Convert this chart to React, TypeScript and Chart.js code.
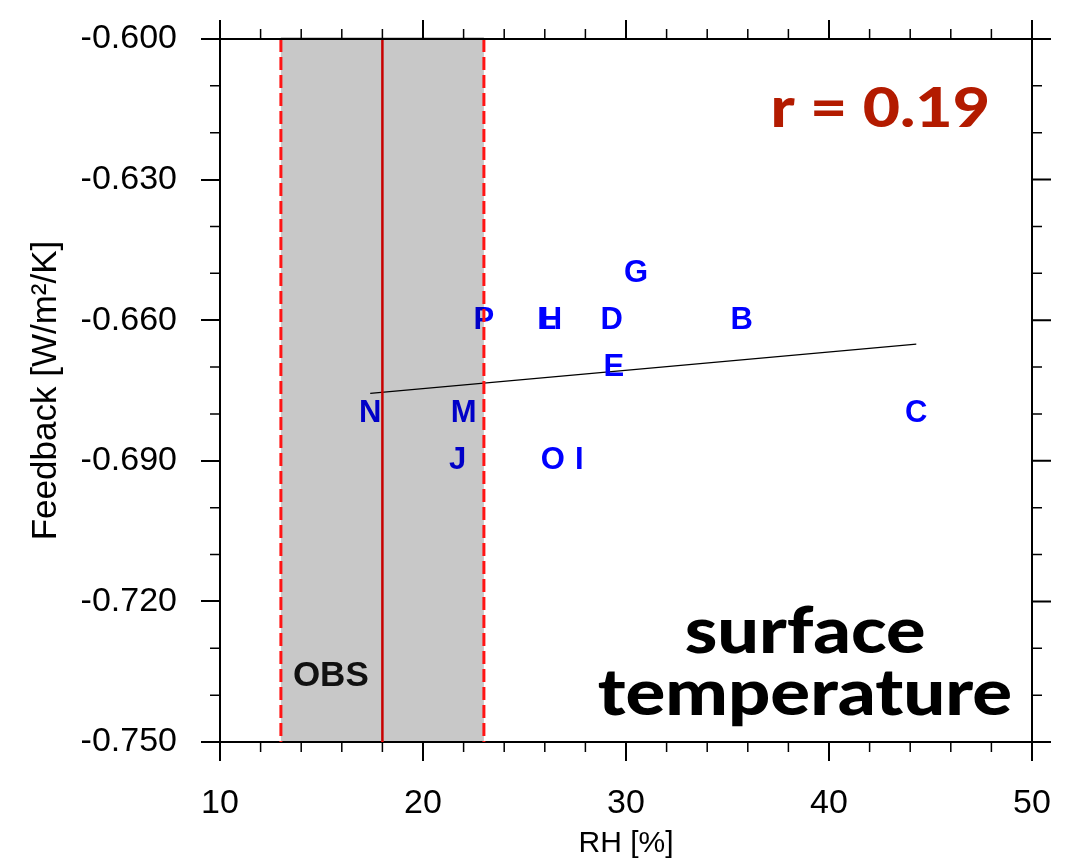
import React, { useEffect, useRef } from "react";
import { Chart, registerables } from "chart.js";

Chart.register(...registerables);

// ---- data ----
const modelLabels = ["B", "C", "D", "E", "G", "H", "I", "J", "L", "M", "N", "O", "P"];
const rhValues = [35.7, 44.3, 29.3, 29.4, 30.5, 26.3, 27.7, 21.7, 26.1, 22.0, 17.4, 26.4, 23.0];
const feedbackValues = [-0.66, -0.68, -0.66, -0.67, -0.65, -0.66, -0.69, -0.69, -0.66, -0.68, -0.68, -0.69, -0.66];

const fitX = [17.4, 44.3];
const fitY = [-0.6756, -0.6651];

const obsLow = 13;
const obsHigh = 23;
const obsCenter = 18;

const xMajorTicks = [10, 20, 30, 40, 50];
const xMinorTicks = [12, 14, 16, 18, 22, 24, 26, 28, 32, 34, 36, 38, 42, 44, 46, 48];
const yMajorTicks = [-0.75, -0.72, -0.69, -0.66, -0.63, -0.6];
const yMinorTicks = [-0.74, -0.73, -0.71, -0.7, -0.68, -0.67, -0.65, -0.64, -0.62, -0.61];

const xTitle = "RH [%]";
const yTitle = "Feedback [W/m\u00B2/K]";
const correlationText = "r = 0.19";
const panelTitleLines = ["surface", "temperature"];
const obsLabel = "OBS";

const SANS = "'Liberation Sans', Arial, Helvetica, sans-serif";
const GILL = "Lato, 'Open Sans', sans-serif";

function stretchedText(
  ctx: CanvasRenderingContext2D,
  text: string,
  x: number,
  y: number,
  sx: number,
  align: CanvasTextAlign
) {
  ctx.save();
  ctx.translate(x, y);
  ctx.scale(sx, 1);
  ctx.textAlign = align;
  ctx.fillText(text, 0, 0);
  ctx.restore();
}

const overlayPlugin = {
  id: "overlay",
  afterDatasetsDraw(chart: any) {
    const ctx = chart.ctx as CanvasRenderingContext2D;
    const xs = chart.scales.x;
    const ys = chart.scales.y;
    const { left, right, top, bottom } = chart.chartArea;
    ctx.save();

    // model letters
    const meta = chart.getDatasetMeta(0);
    ctx.font = `bold 31px ${SANS}`;
    ctx.fillStyle = "#0000ff";
    ctx.textAlign = "center";
    ctx.textBaseline = "middle";
    meta.data.forEach((pt: any, i: number) => {
      ctx.fillText(modelLabels[i], pt.x, pt.y);
    });

    // OBS centre line
    const xc = xs.getPixelForValue(obsCenter);
    ctx.strokeStyle = "#ff0000";
    ctx.lineWidth = 2.5;
    ctx.setLineDash([]);
    ctx.beginPath();
    ctx.moveTo(xc, top);
    ctx.lineTo(xc, bottom);
    ctx.stroke();

    // OBS band overlay
    const x0 = xs.getPixelForValue(obsLow);
    const x1 = xs.getPixelForValue(obsHigh);
    ctx.fillStyle = "rgba(0,0,0,0.215)";
    ctx.fillRect(x0, top - 2, x1 - x0, bottom - top + 1);

    // dashed band edges
    ctx.strokeStyle = "#ff1414";
    ctx.lineWidth = 3;
    ctx.setLineDash([13, 5]);
    [x0, x1].forEach((xx) => {
      ctx.beginPath();
      ctx.moveTo(xx, top);
      ctx.lineTo(xx, bottom);
      ctx.stroke();
    });
    ctx.setLineDash([]);

    // OBS label
    ctx.font = `bold 35px ${SANS}`;
    ctx.fillStyle = "#111111";
    ctx.textAlign = "left";
    ctx.textBaseline = "alphabetic";
    ctx.fillText(obsLabel, x0 + 12, bottom - 56);

    // frame: top and right axis lines + minor/major ticks
    ctx.strokeStyle = "#000";
    ctx.lineWidth = 2;
    ctx.beginPath();
    ctx.moveTo(left, top);
    ctx.lineTo(right, top);
    ctx.moveTo(right, top);
    ctx.lineTo(right, bottom);
    ctx.stroke();

    ctx.beginPath();
    xMajorTicks.forEach((v) => {
      const px = xs.getPixelForValue(v);
      ctx.moveTo(px, top);
      ctx.lineTo(px, top - 19);
    });
    yMajorTicks.forEach((v) => {
      const py = ys.getPixelForValue(v);
      ctx.moveTo(right, py);
      ctx.lineTo(right + 19, py);
    });
    ctx.stroke();

    ctx.lineWidth = 1.5;
    ctx.beginPath();
    xMinorTicks.forEach((v) => {
      const px = xs.getPixelForValue(v);
      ctx.moveTo(px, top);
      ctx.lineTo(px, top - 10);
      ctx.moveTo(px, bottom);
      ctx.lineTo(px, bottom + 10);
    });
    yMinorTicks.forEach((v) => {
      const py = ys.getPixelForValue(v);
      ctx.moveTo(left, py);
      ctx.lineTo(left - 10, py);
      ctx.moveTo(right, py);
      ctx.lineTo(right + 10, py);
    });
    ctx.stroke();

    // correlation text
    ctx.font = `900 55px ${GILL}`;
    ctx.fillStyle = "#b31b00";
    ctx.textBaseline = "alphabetic";
    stretchedText(ctx, correlationText, right - 42, top + 88, 1.17, "right");

    // panel title
    ctx.font = `900 64px ${GILL}`;
    ctx.fillStyle = "#000";
    const cx = right - 227;
    stretchedText(ctx, panelTitleLines[0], cx, bottom - 89, 1.15, "center");
    stretchedText(ctx, panelTitleLines[1], cx, bottom - 27, 1.16, "center");

    ctx.restore();
  },
};

export default function App() {
  const canvasRef = useRef<HTMLCanvasElement | null>(null);

  useEffect(() => {
    document.body.style.margin = "0";
    const canvas = canvasRef.current;
    if (!canvas) return;

    const chart = new Chart(canvas, {
      type: "scatter",
      data: {
        datasets: [
          {
            label: "models",
            data: rhValues.map((x, i) => ({ x, y: feedbackValues[i] })),
            pointRadius: 0,
            pointHoverRadius: 0,
          },
          {
            label: "fit",
            data: fitX.map((x, i) => ({ x, y: fitY[i] })),
            showLine: true,
            borderColor: "#000",
            borderWidth: 1.3,
            pointRadius: 0,
            pointHoverRadius: 0,
          },
        ],
      },
      options: {
        responsive: false,
        animation: false,
        devicePixelRatio: 1,
        layout: { padding: { left: 0, top: 39, right: 51, bottom: 0 } },
        plugins: {
          legend: { display: false },
          tooltip: { enabled: false },
        },
        scales: {
          x: {
            type: "linear",
            position: "bottom",
            min: 10,
            max: 50,
            afterBuildTicks: (scale: any) => {
              scale.ticks = xMajorTicks.map((v) => ({ value: v }));
            },
            afterFit: (scale: any) => {
              scale.height = 121;
              scale.paddingLeft = 0;
              scale.paddingRight = 0;
            },
            ticks: {
              color: "#000",
              font: { family: SANS, size: 34 },
              padding: 22,
              maxRotation: 0,
              callback: (v: any) => String(v),
            },
            grid: {
              drawOnChartArea: false,
              drawTicks: true,
              tickLength: 19,
              color: "#000",
              lineWidth: 2,
            },
            border: { display: true, color: "#000", width: 2 },
            title: {
              display: true,
              text: xTitle,
              color: "#000",
              font: { family: SANS, size: 30 },
              padding: { top: 0, bottom: 1 },
            },
          },
          y: {
            type: "linear",
            position: "left",
            min: -0.75,
            max: -0.6,
            afterBuildTicks: (scale: any) => {
              scale.ticks = yMajorTicks.map((v) => ({ value: v }));
            },
            afterFit: (scale: any) => {
              scale.width = 220;
              scale.paddingTop = 0;
              scale.paddingBottom = 0;
            },
            ticks: {
              color: "#000",
              font: { family: SANS, size: 34 },
              padding: 24,
              callback: (v: any) => Number(v).toFixed(3),
            },
            grid: {
              drawOnChartArea: false,
              drawTicks: true,
              tickLength: 19,
              color: "#000",
              lineWidth: 2,
            },
            border: { display: true, color: "#000", width: 2 },
            title: {
              display: true,
              text: yTitle,
              color: "#000",
              font: { family: SANS, size: 35 },
              padding: { top: 25, bottom: 0 },
            },
          },
        },
      },
      plugins: [overlayPlugin],
    });

    return () => chart.destroy();
  }, []);

  return (
    <div style={{ position: "absolute", left: 0, top: 0, width: 1083, height: 863, background: "#fff" }}>
      <canvas ref={canvasRef} width={1083} height={863} />
    </div>
  );
}
